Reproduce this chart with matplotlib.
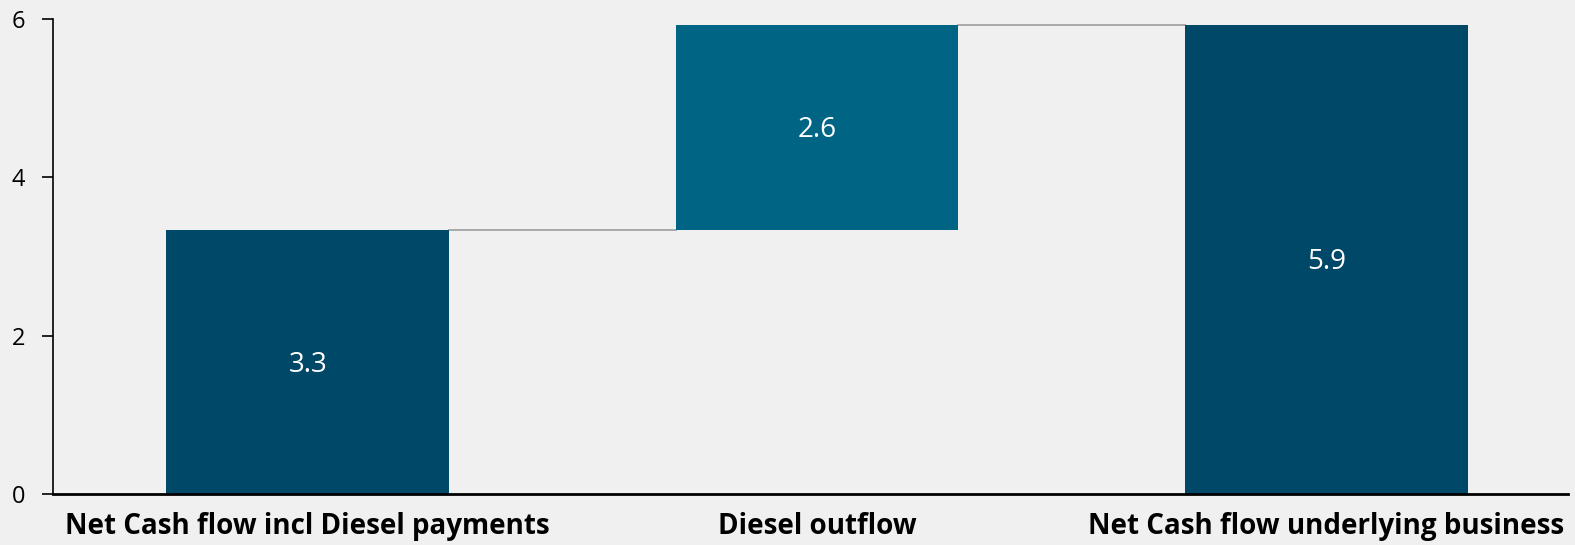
import matplotlib
matplotlib.use("Agg")
import matplotlib.pyplot as plt
from matplotlib.ticker import MultipleLocator

CATEGORIES = ["Net Cash flow incl Diesel payments", "Diesel outflow", "Net Cash flow underlying business"]
VALUES = [3.33, 2.6, 5.93]
IS_TOTAL = [True, False, True]

BG = "#F0F0F0"
DARK = "#004868"
MID = "#006485"
LINE = "#9A9C9E"

plt.rcParams["font.family"] = ["Open Sans", "DejaVu Sans"]

fig = plt.figure(figsize=(15.75, 5.45), dpi=100, facecolor=BG)
ax = fig.add_axes([53 / 1575, 1 - 494 / 545, 1515 / 1575, 475 / 545])
ax.set_facecolor(BG)

width = 0.555
bottoms = []
running = 0.0
for total, v in zip(IS_TOTAL, VALUES):
    if total:
        bottoms.append(0.0)
        running = v
    else:
        bottoms.append(running)
        running += v

for i, (v, b, total) in enumerate(zip(VALUES, bottoms, IS_TOTAL)):
    ax.bar(i, v, bottom=b, width=width, color=DARK if total else MID, zorder=2)
    ax.text(i, b + v / 2 - 0.03, f"{v:.1f}", ha="center", va="center",
            color="white", fontsize=20, zorder=3)

# connectors between bar tops
for i in range(len(VALUES) - 1):
    top = bottoms[i] + VALUES[i]
    ax.plot([i + width / 2, i + 1 - width / 2], [top, top], color=LINE, lw=1.2, zorder=1)

XMAX = 2.474
ax.set_xlim(-0.5, XMAX)
ax.set_ylim(0, 6)
ax.yaxis.set_major_locator(MultipleLocator(2))
ax.set_xticks(range(len(CATEGORIES)))
ax.set_xticklabels(CATEGORIES, fontsize=20, fontweight="bold")
ax.tick_params(axis="x", length=0, pad=13)
ax.tick_params(axis="y", length=8, width=1.2, labelsize=17, pad=12)

for side in ["top", "right"]:
    ax.spines[side].set_visible(False)
ax.spines["left"].set_linewidth(1.2)
ax.spines["bottom"].set_linewidth(2)
ax.spines["bottom"].set_bounds(-0.5, XMAX)

fig.savefig("out.png", dpi=100, facecolor=BG)
